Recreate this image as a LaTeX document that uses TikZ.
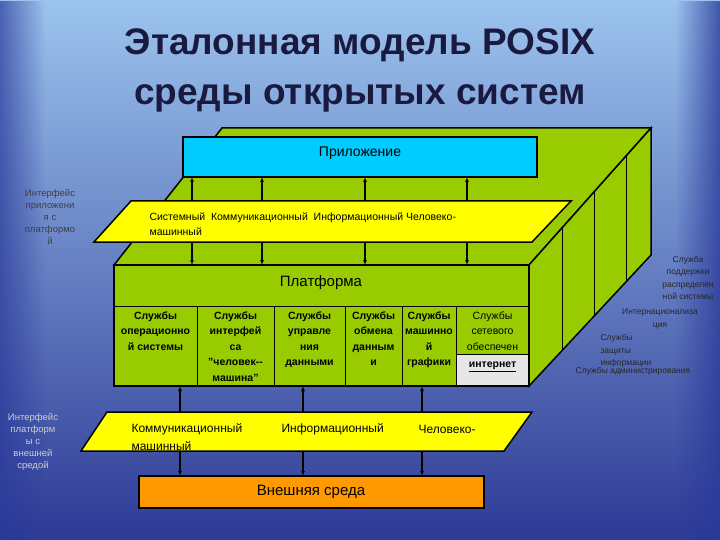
\documentclass[tikz,border=0pt]{standalone}
\usepackage{fontspec}
\setmainfont{Liberation Sans}[Ligatures=NoCommon]
\usetikzlibrary{fadings,arrows.meta}
\definecolor{bgtop}{HTML}{9CC4EE}
\definecolor{bgbot}{HTML}{2E3A96}
\definecolor{bgedge}{HTML}{2A3A9A}
\definecolor{grn}{HTML}{99CC00}
\definecolor{cyanbox}{HTML}{00CCFF}
\definecolor{yel}{HTML}{FFFF00}
\definecolor{orng}{HTML}{FF9900}
\definecolor{titlec}{HTML}{1A1A40}
\definecolor{inet}{HTML}{E6E6E6}
\tikzset{
  box/.style={draw=black, line width=1.5pt},
  dbl/.style={{Latex[length=5pt,width=4pt]}-{Latex[length=5pt,width=4pt]}, line width=1.3pt},
  lbl/.style={font=\fontsize{9.5}{12}\selectfont, align=center, text=black!75},
  rlbl/.style={font=\fontsize{8.5}{12.3}\selectfont, text=black!85},
  col/.style={font=\bfseries\fontsize{10.5}{15.5}\selectfont, align=center, anchor=north},
  ytxt/.style={font=\fontsize{10.5}{13}\selectfont, anchor=west},
}
\begin{document}
\begin{tikzpicture}[x=1pt,y=-1pt]
\useasboundingbox (0,0) rectangle (720,540);
% background
\shade[top color=bgtop, bottom color=bgbot] (0,0) rectangle (720,540);
\fill[bgedge, opacity=0.7, path fading=east] (0,0) rectangle (45,540);
\fill[bgedge, opacity=0.8, path fading=west] (675,0) rectangle (720,540);
% title
\node[font=\bfseries\fontsize{37}{50}\selectfont, text=titlec, align=center] (title) at (360,70) {Эталонная модель POSIX\\среды открытых систем};
% green 3D box
\draw[box, fill=grn] (222,128) -- (651,128) -- (529,265) -- (114,265) -- cycle;
\draw[box, fill=grn] (529,265) -- (651,128) -- (651,255) -- (529,386) -- cycle;
\foreach \x in {562,594,626} {
  \pgfmathsetmacro{\yt}{265-(\x-529)*137/122}
  \pgfmathsetmacro{\yb}{386-(\x-529)*131/122}
  \draw[line width=0.8pt] (\x,\yt) -- (\x,\yb);
}
\draw[box, fill=grn] (114,265) rectangle (529,386);
\fill[inet] (456,354) rectangle (529,386);
\draw[line width=1pt] (114,306) -- (529,306);
\foreach \x in {197,274,345,402,456} \draw[line width=1pt] (\x,306) -- (\x,386);
\draw[line width=1pt] (456,354) -- (529,354);
\draw[box] (114,265) rectangle (529,386);
\node[font=\fontsize{15}{18}\selectfont] (plat) at (321,283) {Платформа};
\node[col] (c1) at (155.5,308) {Службы\\операционно\\й системы};
\node[col] (c2) at (235.5,308) {Службы\\интерфей\\са\\\char34человек-{}-\\машина\char34};
\node[col] (c3) at (309.5,308) {Службы\\управле\\ния\\данными};
\node[col] (c4) at (373.5,308) {Службы\\обмена\\данным\\и};
\node[col] (c5) at (429,308) {Службы\\машинно\\й\\графики};
\node[col, font=\fontsize{10.5}{15.5}\selectfont] (c6) at (492.5,308) {Службы\\сетевого\\обеспечен};
\node[font=\bfseries\fontsize{10.5}{12}\selectfont] (inet) at (492.5,367) {\underline{интернет}};
% application box
\draw[box, fill=cyanbox] (183,137) rectangle (537,177);
\node[font=\fontsize{14}{16}\selectfont] (app) at (360,153) {Приложение};
% upper arrows
\foreach \x in {192,262,365,467} \draw[dbl] (\x,177) -- (\x,265);
% upper yellow
\draw[box, fill=yel] (131,201) -- (571,201) -- (532,242) -- (94,242) -- cycle;
\node[ytxt] (y1) at (146,218) {Системный\ \ Коммуникационный\ \ Информационный\ Человеко-};
\node[ytxt] (y2) at (146,232) {машинный};
% lower arrows
\foreach \x in {180,303,422} \draw[dbl] (\x,386) -- (\x,476);
% lower yellow
\draw[box, fill=yel] (107,412) -- (532,412) -- (504,451) -- (81,451) -- cycle;
\node[font=\fontsize{12}{15}\selectfont, anchor=west] (l1) at (128,429) {Коммуникационный};
\node[font=\fontsize{12}{15}\selectfont, anchor=west] (l2) at (278,429) {Информационный};
\node[font=\fontsize{12}{15}\selectfont, anchor=west] (l3) at (415,429) {Человеко-};
\node[font=\fontsize{12}{15}\selectfont, anchor=west] (l4) at (128,446) {машинный};
% orange
\draw[box, fill=orng] (139,476) rectangle (484,508);
\node[font=\fontsize{15}{18}\selectfont] (ext) at (311,492) {Внешняя среда};
% left labels
\node[lbl] (ia) at (50,217) {Интерфейс\\приложени\\я с\\платформо\\й};
\node[lbl, text=white!80!black] (ip) at (33,442) {Интерфейс\\платформ\\ы с\\внешней\\средой};
% right labels
\node[rlbl, align=center] (r1) at (688,278) {Служба\\поддержки\\распределен\\ной системы};
\node[rlbl, align=center] (r2) at (660,319) {Интернационализа\\ция};
\node[rlbl, align=left, anchor=north west] (r3) at (597,331) {Службы\\защиты\\информации};
\node[rlbl] (r4) at (633,371) {Службы администрирования};
\end{tikzpicture}
\end{document}
